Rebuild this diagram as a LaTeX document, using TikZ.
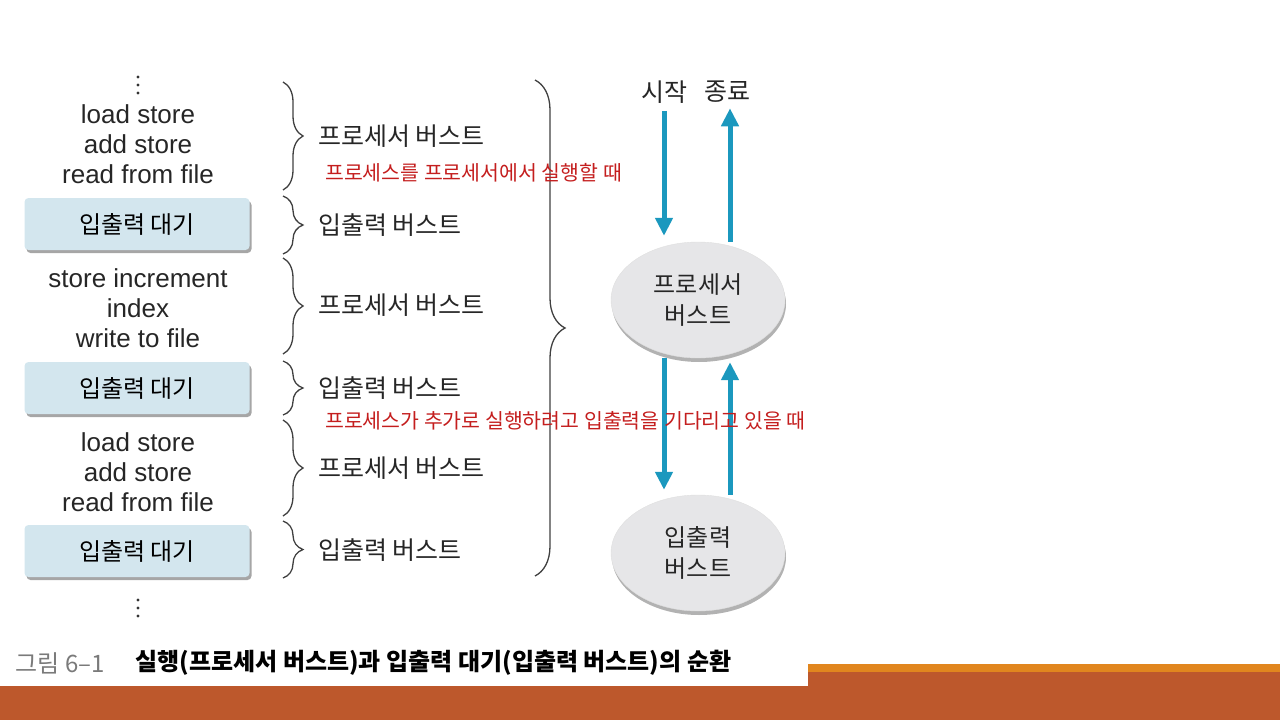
\documentclass[tikz,border=0pt]{standalone}
\usepackage{fontspec}
\setmainfont{Liberation Sans}
\newfontfamily\kr{Noto Sans CJK KR}
\usetikzlibrary{arrows.meta, positioning, shapes.geometric, decorations.pathreplacing, shadows, calc}

\definecolor{flowblue}{HTML}{1B98BE}
\definecolor{boxblue}{HTML}{D3E6EE}
\definecolor{ellgray}{HTML}{E6E6E8}
\definecolor{notered}{HTML}{C41E1E}
\definecolor{capgray}{HTML}{7A7A7A}
\definecolor{band}{HTML}{BD582C}
\definecolor{bandtop}{HTML}{E1861E}

\begin{document}
\begin{tikzpicture}[
  x=1pt, y=-1pt,
  code/.style={align=center, font=\fontsize{26}{30}\selectfont, text=black!85},
  waitbox/.style={fill=boxblue, rounded corners=4pt, minimum width=225pt,
                  minimum height=52pt, font=\kr\fontsize{24}{28}\selectfont,
                  drop shadow={shadow xshift=2pt, shadow yshift=-3pt, fill=black, opacity=0.35}},
  lbl/.style={anchor=west, inner sep=0pt, font=\kr\fontsize{25}{28}\selectfont, text=black!85},
  burst/.style={ellipse, fill=ellgray, draw=gray!25, minimum width=174pt, minimum height=116pt,
                inner sep=0pt, align=center, font=\kr\fontsize{24}{31}\selectfont, text=black!85,
                drop shadow={shadow xshift=1pt, shadow yshift=-4pt, fill=black, opacity=0.3}},
  flow/.style={-{Triangle[length=18pt, width=17pt]}, line width=5pt, draw=flowblue},
  note/.style={anchor=west, inner sep=0pt, text=notered, font=\kr\fontsize{20.5}{24}\selectfont},
  brace/.style={decorate, decoration={brace, amplitude=20pt}, line width=1.3pt, draw=black!75},
  dot/.style={fill=black!80}
]
\useasboundingbox (0,0) rectangle (1280,720);

\fill[band] (0,686) rectangle (808,720);
\fill[band] (808,672) rectangle (1280,720);
\fill[bandtop] (808,664) rectangle (1280,672);

\foreach \y in {77,85,93} \fill[dot] (138,\y) circle (1.6pt);
\node[code] (c1) at (138,144) {load store\\add store\\read from file};
\node[waitbox] (w1) at (137,224) {입출력 대기};
\node[code] (c2) at (138,308) {store increment\\index\\write to file};
\node[waitbox] (w2) at (137,388) {입출력 대기};
\node[code] (c3) at (138,472) {load store\\add store\\read from file};
\node[waitbox] (w3) at (137,551) {입출력 대기};
\foreach \y in {600,608,616} \fill[dot] (138,\y) circle (1.6pt);

\draw[brace] (283,82) -- (283,190);
\draw[brace] (283,196) -- (283,254);
\draw[brace] (283,258) -- (283,354);
\draw[brace] (283,361) -- (283,415);
\draw[brace] (283,420) -- (283,516);
\draw[brace] (283,521) -- (283,578);
\draw[brace, decoration={amplitude=30pt}] (535,80) -- (535,576);

\node[lbl] (l1) at (318,136) {프로세서 버스트};
\node[lbl] (l2) at (318,225) {입출력 버스트};
\node[lbl] (l3) at (318,305) {프로세서 버스트};
\node[lbl] (l4) at (318,388) {입출력 버스트};
\node[lbl] (l5) at (318,468) {프로세서 버스트};
\node[lbl] (l6) at (318,550) {입출력 버스트};

\node[font=\kr\fontsize{25}{28}\selectfont, text=black!85] (start) at (664,92) {시작};
\node[font=\kr\fontsize{25}{28}\selectfont, text=black!85] (stop) at (727,92) {종료};

\node[burst] (pburst) at (698,300) {프로세서\\버스트};
\node[burst] (ioburst) at (698,553) {입출력\\버스트};

\draw[flow, shorten <=4pt, shorten >=6pt] (start.south) -- (start.south |- pburst.north);
\draw[flow, shorten >=2pt] ([xshift=32pt]pburst.north) -- ([xshift=3pt]stop.south);
\draw[flow, shorten >=5pt] ([xshift=-34pt]pburst.south) -- ([xshift=-34pt]ioburst.north);
\draw[flow, shorten >=4pt] ([xshift=32pt]ioburst.north) -- ([xshift=32pt]pburst.south);

\node[note] (n1) at (325,173) {프로세스를 프로세서에서 실행할 때};
\node[note] (n2) at (325,421) {프로세스가 추가로 실행하려고 입출력을 기다리고 있을 때};

\node[anchor=west, text=capgray, font=\kr\fontsize{24}{27}\selectfont] (fignum) at (12,663) {그림 6–1};
\node[anchor=west, font=\kr\bfseries\fontsize{24}{27}\selectfont] (figtitle) at (132,663) {실행(프로세서 버스트)과 입출력 대기(입출력 버스트)의 순환};
\end{tikzpicture}
\end{document}
